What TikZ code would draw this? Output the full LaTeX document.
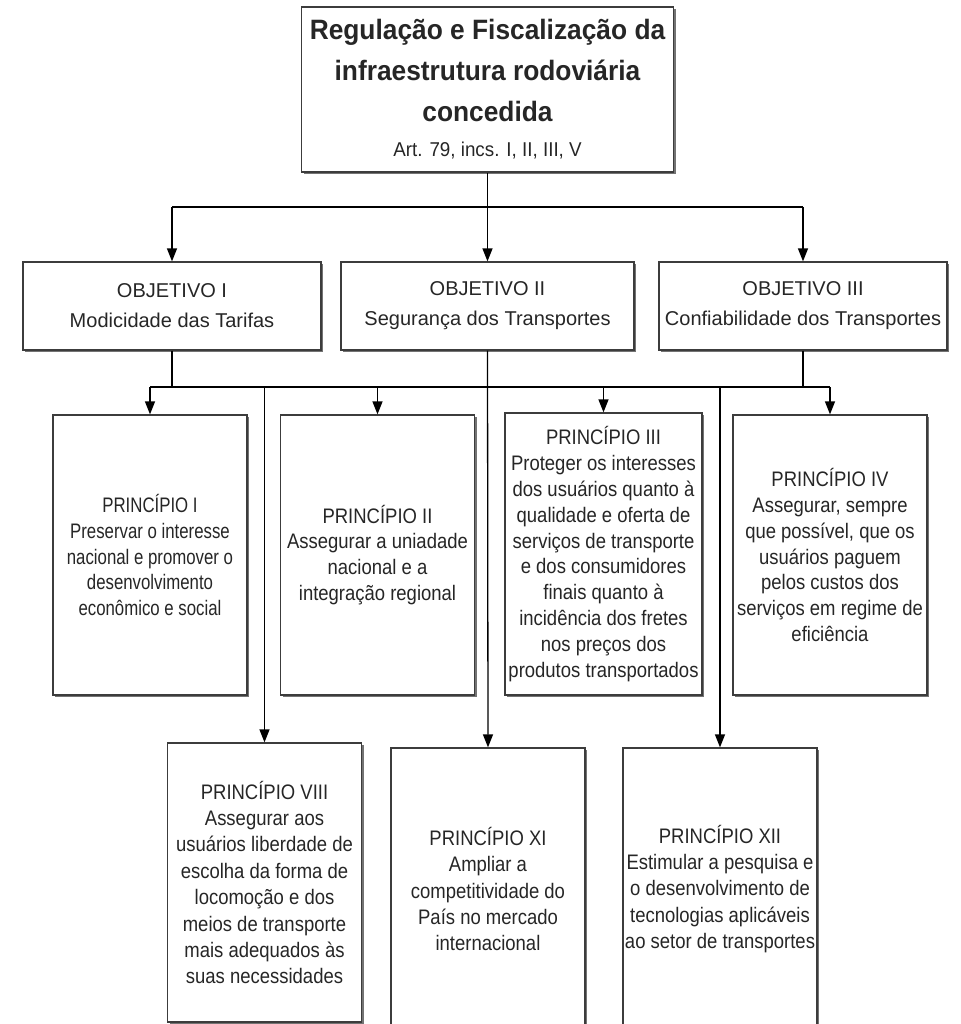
\documentclass[tikz,border=0pt]{standalone}
\usepackage{fontspec}
\setmainfont{Liberation Sans}
\newfontfamily\titlefont[FakeStretch=0.94]{Liberation Sans}
\newfontfamily\prinfont[FakeStretch=0.88]{Liberation Sans}
\newfontfamily\prinnarrow[FakeStretch=0.8]{Liberation Sans}
\usetikzlibrary{arrows.meta,shadows}
\definecolor{boxline}{HTML}{3C3C3C}
\definecolor{inktext}{HTML}{262626}
\tikzset{
  box/.style={draw=boxline, line width=1.3pt, fill=white, rectangle,
    inner sep=0pt, align=center, text=inktext,
    drop shadow={shadow xshift=2pt, shadow yshift=-2pt, fill=black!55, opacity=1}},
  objbox/.style={box, minimum height=88pt,
    font=\fontsize{20}{30}\selectfont},
  prinbox/.style={box, minimum width=194pt,
    font=\prinfont\fontsize{21}{25.8}\selectfont},
  wire/.style={line width=1.3pt, black},
  arr/.style={wire, -{Triangle[length=13pt,width=10pt]}},
}
\begin{document}
\begin{tikzpicture}[x=1pt,y=-1pt]
\useasboundingbox (0,0) rectangle (960,1024);
\clip (0,0) rectangle (960,1024);
\fill[white] (0,0) rectangle (960,1024);

% top box
\node[box, minimum width=372pt, minimum height=165pt,
      font=\titlefont\bfseries\fontsize{28}{41}\selectfont] (top) at (487.5,89.5)
  {Regulação e Fiscalização da\\infraestrutura rodoviária\\concedida\\[-6pt]
   {\mdseries\fontsize{20}{24}\selectfont Art. 79, incs. I, II, III, V}};

% objectives
\node[objbox, minimum width=298pt] (o1) at (172,306)
  {OBJETIVO I\\Modicidade das Tarifas};
\node[objbox, minimum width=293pt] (o2) at (487.5,306)
  {OBJETIVO II\\Segurança dos Transportes};
\node[objbox, minimum width=288pt] (o3) at (803,306)
  {OBJETIVO III\\Confiabilidade dos Transportes};

% principles, first row
\node[prinbox, minimum height=280pt, font=\prinnarrow\fontsize{21}{25.8}\selectfont] (p1) at (150,555)
  {PRINCÍPIO I\\Preservar o interesse\\nacional e promover o\\desenvolvimento\\econômico e social};
\node[prinbox, minimum height=280pt] (p2) at (377.5,555)
  {PRINCÍPIO II\\Assegurar a uniadade\\nacional e a\\integração regional};
\node[prinbox, minimum width=197pt, minimum height=282pt] (p3) at (603.5,554)
  {PRINCÍPIO III\\Proteger os interesses\\dos usuários quanto à\\qualidade e oferta de\\serviços de transporte\\e dos consumidores\\finais quanto à\\incidência dos fretes\\nos preços dos\\produtos transportados};
\node[prinbox, minimum height=280pt] (p4) at (830,555)
  {PRINCÍPIO IV\\Assegurar, sempre\\que possível, que os\\usuários paguem\\pelos custos dos\\serviços em regime de\\eficiência};

% principles, second row
\node[prinbox, minimum height=279pt, font=\prinfont\fontsize{21}{26.4}\selectfont] (p8) at (264.5,882.5)
  {PRINCÍPIO VIII\\Assegurar aos\\usuários liberdade de\\escolha da forma de\\locomoção e dos\\meios de transporte\\mais adequados às\\suas necessidades};
\node[prinbox, minimum height=282pt, font=\prinfont\fontsize{21}{26.4}\selectfont] (p11) at (488,889)
  {PRINCÍPIO XI\\Ampliar a\\competitividade do\\País no mercado\\internacional};
\node[prinbox, minimum height=282pt, font=\prinfont\fontsize{21}{26.4}\selectfont] (p12) at (720,889)
  {PRINCÍPIO XII\\Estimular a pesquisa e\\o desenvolvimento de\\tecnologias aplicáveis\\ao setor de transportes};

% bus levels
\coordinate (busA) at (0,207);
\coordinate (busB) at (0,387);

% top -> objectives
\draw[wire] (o1.north |- busA) -- (o3.north |- busA);
\draw[arr] (top.south) -- (o2.north);
\draw[arr] (o1.north |- busA) -- (o1.north);
\draw[arr] (o3.north |- busA) -- (o3.north);

% objectives -> principles
\draw[wire] (o1.south) -- (o1.south |- busB);
\draw[wire] (o3.south) -- (o3.south |- busB);
\draw[wire] (p1.north |- busB) -- (p4.north |- busB);
\draw[arr] (p1.north |- busB) -- (p1.north);
\draw[arr] (p2.north |- busB) -- (p2.north);
\draw[arr] (p3.north |- busB) -- (p3.north);
\draw[arr] (p4.north |- busB) -- (p4.north);
\draw[arr] (o2.south) -- (p11.north);
\draw[arr] (p8.north |- busB) -- (p8.north);
\draw[arr] (p12.north |- busB) -- (p12.north);
\end{tikzpicture}
\end{document}
